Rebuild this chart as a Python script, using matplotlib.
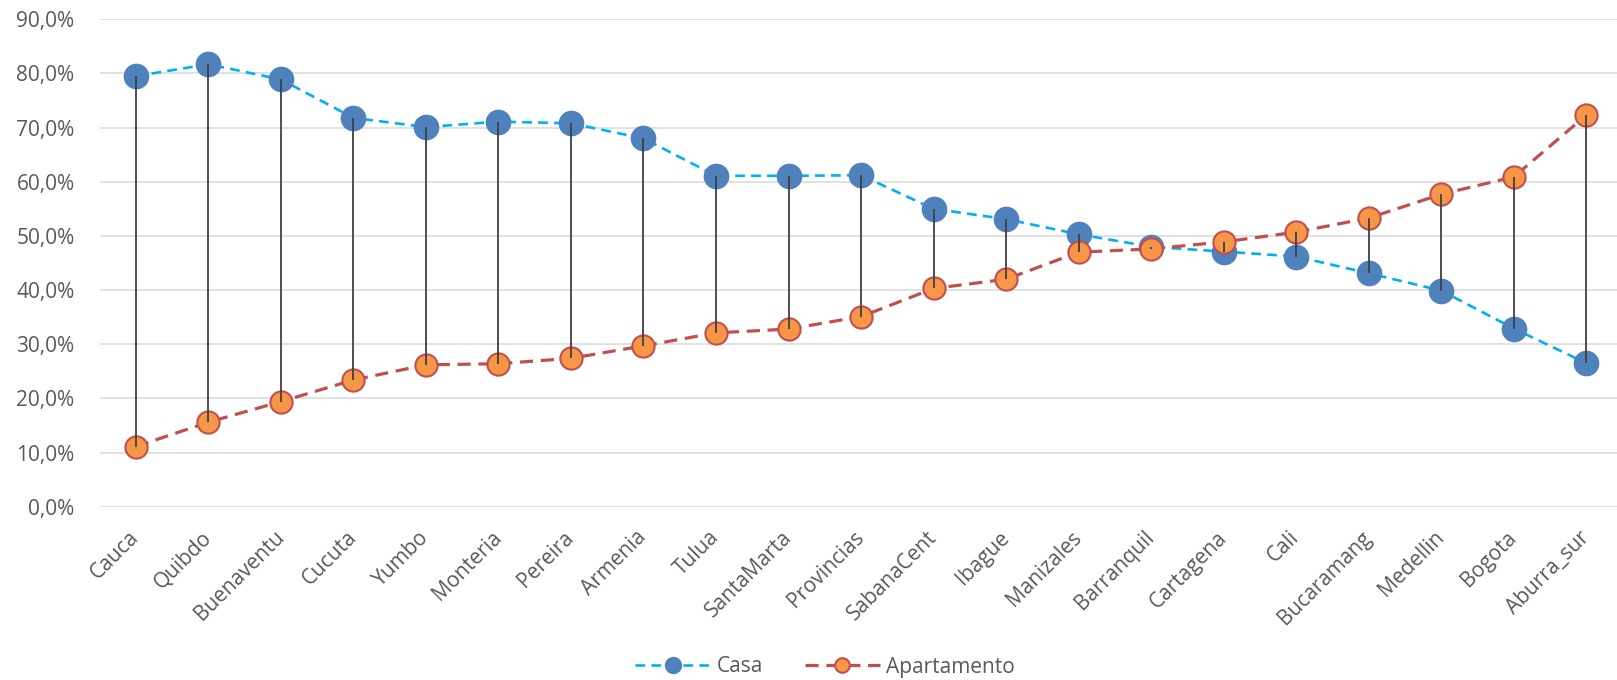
import matplotlib
matplotlib.use("Agg")
import matplotlib.pyplot as plt
from matplotlib.lines import Line2D
from matplotlib.ticker import FuncFormatter, MultipleLocator

# Share of dwellings by type per city
ciudades = ["Cauca", "Quibdo", "Buenaventu", "Cucuta", "Yumbo", "Monteria", "Pereira",
            "Armenia", "Tulua", "SantaMarta", "Provincias", "SabanaCent", "Ibague",
            "Manizales", "Barranquil", "Cartagena", "Cali", "Bucaramang", "Medellin",
            "Bogota", "Aburra_sur"]
casa = [0.795, 0.817, 0.789, 0.718, 0.701, 0.711, 0.708, 0.680, 0.611, 0.611, 0.612,
        0.550, 0.531, 0.503, 0.480, 0.471, 0.462, 0.431, 0.399, 0.329, 0.265]
apartamento = [0.111, 0.156, 0.194, 0.234, 0.262, 0.264, 0.274, 0.297, 0.321, 0.328,
               0.351, 0.403, 0.420, 0.470, 0.476, 0.489, 0.507, 0.533, 0.577, 0.609, 0.723]

plt.rcParams["font.family"] = ["Open Sans", "DejaVu Sans"]
plt.rcParams["lines.scale_dashes"] = False

TEXT = "#595959"
CASA_LINE = "#00B0F0"
CASA_MARK = "#4F81BD"
APTO_LINE = "#C0504D"
APTO_MARK = "#F79646"

fig = plt.figure(figsize=(16.17, 6.8), dpi=100)
ax = fig.add_axes([99.5 / 1617, (680 - 506.7) / 680, 1523.1 / 1617, 487.4 / 680])

x = list(range(len(ciudades)))

casa_style = dict(color=CASA_LINE, lw=1.9, dashes=(7, 4.5), marker="o", ms=18.5,
                  markerfacecolor=CASA_MARK, markeredgecolor=CASA_MARK, markeredgewidth=0)
apto_style = dict(color=APTO_LINE, lw=2.3, dashes=(9.5, 5.5), marker="o", ms=16,
                  markerfacecolor=APTO_MARK, markeredgecolor=APTO_LINE, markeredgewidth=1.5)

ax.plot(x, casa, zorder=3, **casa_style)
ax.plot(x, apartamento, zorder=4, **apto_style)
ax.vlines(x, apartamento, casa, colors="#404040", lw=1.3, zorder=5)

ax.set_xlim(-0.5, len(ciudades) - 0.5)
ax.set_ylim(0, 0.9)
ax.yaxis.set_major_locator(MultipleLocator(0.1))
ax.yaxis.set_major_formatter(FuncFormatter(lambda v, p: f"{v * 100:.1f}%".replace(".", ",")))
ax.grid(axis="y", color="#D9D9D9", lw=1.1)
ax.set_axisbelow(True)
for s in ax.spines.values():
    s.set_visible(False)

ax.set_xticks(x)
ax.set_xticklabels(ciudades, rotation=45, ha="right", va="center", rotation_mode="anchor")
ax.tick_params(axis="x", length=0, pad=20, labelsize=15, labelcolor=TEXT)
ax.tick_params(axis="y", length=0, pad=18, labelsize=15, labelcolor=TEXT)

# Legend keys use smaller markers than the plotted points
casa_key = dict(casa_style, ms=12.5)
apto_key = dict(apto_style, ms=10.5)
handles = [Line2D([], [], **casa_key), Line2D([], [], **apto_key)]
fig.legend(handles, ["Casa", "Apartamento"], loc="center",
           bbox_to_anchor=(825 / 1617, 1 - 667 / 680), ncol=2, frameon=False,
           fontsize=15, handlelength=3.6, handletextpad=0.3, columnspacing=2.0,
           labelcolor=TEXT, numpoints=1)

fig.savefig("out.png", dpi=100)
